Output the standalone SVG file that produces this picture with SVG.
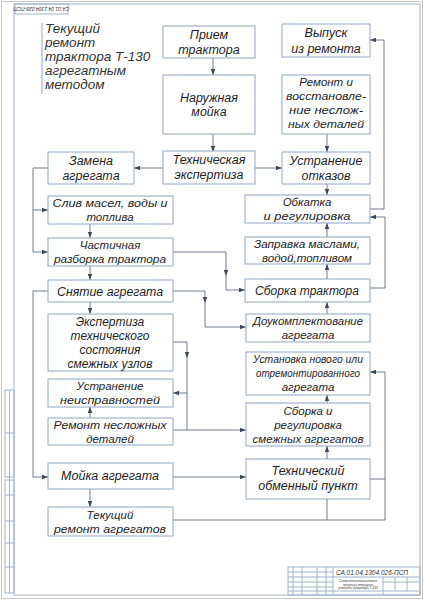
<svg xmlns="http://www.w3.org/2000/svg" width="424" height="600" viewBox="0 0 424 600">
<defs>
<marker id="a" viewBox="0 0 8 6" refX="8" refY="3" markerWidth="6" markerHeight="4.5" orient="auto" markerUnits="userSpaceOnUse"><path d="M0,0 L8,3 L0,6 z" fill="#3d4a5a"/></marker>
</defs>
<style>
.frame{fill:none;stroke:#9fb3cc;stroke-width:1}
.box{fill:#fff;stroke:#8ea6c4;stroke-width:1}
.t{font-family:"Liberation Sans",Arial,sans-serif;font-style:italic;font-size:12.5px;fill:#1e1e1e;text-anchor:middle}
.s{font-size:11.5px}
.m{font-size:12px}
.c{fill:none;stroke:#5d6d82;stroke-width:0.9}
.ca{fill:none;stroke:#5d6d82;stroke-width:0.9;marker-end:url(#a)}
.tiny{font-family:"Liberation Sans",Arial,sans-serif;font-style:italic;fill:#333}
</style>
<rect x="0" y="0" width="424" height="600" fill="#fff"/>
<g id="frame">
<rect x="1.5" y="1.5" width="421" height="597" fill="none" stroke="#c8c8c8" stroke-width="1"/>
<rect class="frame" x="14" y="4" width="406" height="591"/>
<rect class="frame" x="15" y="4" width="53" height="10"/>
<text class="tiny" font-size="5" text-anchor="middle" transform="translate(41.5,9) rotate(180)" dy="1.8">СА.01.04.1304.026-ПСП</text>
<rect class="frame" x="5" y="390" width="9" height="87"/>
<line class="frame" x1="5" y1="433" x2="14" y2="433"/>
<rect class="frame" x="5" y="480" width="9" height="113"/>
<line class="frame" x1="5" y1="495" x2="14" y2="495"/>
<line class="frame" x1="5" y1="521" x2="14" y2="521"/>
<line class="frame" x1="5" y1="543" x2="14" y2="543"/>
<line class="frame" x1="5" y1="567" x2="14" y2="567"/>
<line class="frame" x1="9.5" y1="390" x2="9.5" y2="593"/>
</g>
<g id="titleblock">
<rect class="frame" x="288" y="567" width="132" height="28"/>
<line class="frame" x1="293" y1="567" x2="293" y2="595"/>
<line class="frame" x1="302" y1="567" x2="302" y2="595"/>
<line class="frame" x1="317" y1="567" x2="317" y2="595"/>
<line class="frame" x1="326" y1="567" x2="326" y2="595"/>
<line class="frame" x1="333" y1="567" x2="333" y2="595"/>
<line class="frame" x1="288" y1="572" x2="333" y2="572"/>
<line class="frame" x1="288" y1="577" x2="420" y2="577"/>
<line class="frame" x1="288" y1="582" x2="333" y2="582"/>
<line class="frame" x1="288" y1="587" x2="333" y2="587"/>
<line class="frame" x1="288" y1="591" x2="420" y2="591"/>
<line class="frame" x1="383" y1="577" x2="383" y2="595"/>
<line class="frame" x1="383" y1="582" x2="420" y2="582"/>
<line class="frame" x1="395" y1="577" x2="395" y2="591"/>
<line class="frame" x1="407" y1="577" x2="407" y2="591"/>
<text class="tiny" font-size="6.5" x="372" y="575" text-anchor="middle">СА.01.04.1304.026-ПСП</text>
<text class="tiny" font-size="3.2" x="358" y="582" text-anchor="middle">Схема технологического</text>
<text class="tiny" font-size="3.2" x="358" y="585.5" text-anchor="middle">процесса текущего</text>
<text class="tiny" font-size="3.2" x="358" y="589" text-anchor="middle">ремонта трактора Т-130</text>
</g>
<g id="title">
<line x1="42" y1="23" x2="42" y2="94" stroke="#8ea6c4" stroke-width="1"/>
<text class="tiny" font-size="13.5" fill="#1e1e1e"><tspan x="45" y="33">Текущий</tspan><tspan x="45" y="47">ремонт</tspan><tspan x="45" y="61">трактора  Т-130</tspan><tspan x="45" y="75">агрегатным</tspan><tspan x="45" y="89">методом</tspan></text>
</g>
<g id="connectors">
<path class="ca" d="M213,58 V75"/>
<path class="ca" d="M213,134 V152"/>
<path class="ca" d="M163,168 H134"/>
<path class="ca" d="M255,168 H282"/>
<path class="ca" d="M327,134 V152"/>
<path class="ca" d="M327,184 V195"/>
<path class="ca" d="M370,209 H384 V40 H370"/>
<path class="ca" d="M48,168 H33 V252 H48"/>
<path class="ca" d="M33,210 H48"/>
<path class="ca" d="M90,224 V238"/>
<path class="ca" d="M90,266 V280"/>
<path class="ca" d="M173,252 H226 V276"/>
<path class="ca" d="M226,276 V290 H245"/>
<path class="ca" d="M327,237 V223"/>
<path class="ca" d="M327,279 V264"/>
<path class="ca" d="M370,288 H385 V217 H370"/>
<path class="ca" d="M173,291 H205 V303"/>
<path class="ca" d="M205,303 V327 H246"/>
<path class="ca" d="M327,314 V302"/>
<path class="ca" d="M48,291 H33 V477 H48"/>
<path class="ca" d="M90,302 V314"/>
<path class="ca" d="M173,342 H187 V358"/>
<path class="c" d="M187,358 V430"/>
<path class="ca" d="M187,393 H173"/>
<path class="ca" d="M90,418 V407"/>
<path class="ca" d="M173,430 H246"/>
<path class="ca" d="M327,403 V395"/>
<path class="ca" d="M327,459 V446"/>
<path class="ca" d="M173,477 H246"/>
<path class="ca" d="M90,489 V507"/>
<path class="ca" d="M173,520 H385 V372 H370"/>
<path class="c" d="M327,499 V520"/>
<path class="c" d="M370,479 H385"/>
</g>
<g id="n-priem"><rect class="box" x="163" y="26" width="92" height="32"/><text class="t" x="209" y="39">Прием</text><text class="t" x="209" y="54">трактора</text></g>
<g id="n-moika"><rect class="box" x="163" y="75" width="92" height="59"/><text class="t" x="209" y="102">Наружная</text><text class="t" x="209" y="116">мойка</text></g>
<g id="n-vypusk"><rect class="box" x="282" y="24" width="88" height="33"/><text class="t" x="326" y="37">Выпуск</text><text class="t" x="326" y="53">из ремонта</text></g>
<g id="n-remont-vost"><rect class="box" x="282" y="75" width="88" height="59"/><text class="t s" x="326" y="86">Ремонт и</text><text class="t s" x="326" y="100" textLength="80" lengthAdjust="spacingAndGlyphs">восстановле-</text><text class="t s" x="326" y="114" textLength="74" lengthAdjust="spacingAndGlyphs">ние неслож-</text><text class="t s" x="326" y="128" textLength="76" lengthAdjust="spacingAndGlyphs">ных деталей</text></g>
<g id="n-zamena"><rect class="box" x="48" y="152" width="86" height="32"/><text class="t" x="91" y="165">Замена</text><text class="t" x="91" y="180">агрегата</text></g>
<g id="n-tech-exp"><rect class="box" x="163" y="151" width="92" height="33"/><text class="t" x="209" y="164">Техническая</text><text class="t" x="209" y="179">экспертиза</text></g>
<g id="n-ustr-otk"><rect class="box" x="282" y="152" width="88" height="32"/><text class="t" x="326" y="165">Устранение</text><text class="t" x="326" y="180">отказов</text></g>
<g id="n-sliv"><rect class="box" x="48" y="196" width="125" height="28"/><text class="t s" x="110" y="207" textLength="115" lengthAdjust="spacingAndGlyphs">Слив масел, воды и</text><text class="t s" x="110" y="221">топлива</text></g>
<g id="n-obkatka"><rect class="box" x="245" y="195" width="125" height="28"/><text class="t s" x="307" y="206">Обкатка</text><text class="t s" x="307" y="220" textLength="87" lengthAdjust="spacingAndGlyphs">и регулировка</text></g>
<g id="n-chast"><rect class="box" x="48" y="238" width="125" height="28"/><text class="t s" x="110" y="249">Частичная</text><text class="t s" x="110" y="263" textLength="112" lengthAdjust="spacingAndGlyphs">разборка трактора</text></g>
<g id="n-zapravka"><rect class="box" x="245" y="237" width="125" height="27"/><text class="t s" x="307" y="248" textLength="106" lengthAdjust="spacingAndGlyphs">Заправка маслами,</text><text class="t s" x="307" y="262" textLength="90" lengthAdjust="spacingAndGlyphs">водой,топливом</text></g>
<g id="n-snyatie"><rect class="box" x="48" y="280" width="125" height="22"/><text class="t" x="110" y="296" textLength="106" lengthAdjust="spacingAndGlyphs">Снятие агрегата</text></g>
<g id="n-sborka-tr"><rect class="box" x="245" y="279" width="125" height="23"/><text class="t" x="307" y="295" textLength="104" lengthAdjust="spacingAndGlyphs">Сборка трактора</text></g>
<g id="n-exp-uzl"><rect class="box" x="48" y="314" width="125" height="57"/><text class="t m" x="110" y="326">Экспертиза</text><text class="t m" x="110" y="340">технического</text><text class="t m" x="110" y="354">состояния</text><text class="t m" x="110" y="368">смежных узлов</text></g>
<g id="n-doukompl"><rect class="box" x="246" y="314" width="124" height="28"/><text class="t s" x="308" y="325" textLength="110" lengthAdjust="spacingAndGlyphs">Доукомплектование</text><text class="t s" x="308" y="339">агрегата</text></g>
<g id="n-ustanovka"><rect class="box" x="246" y="352" width="124" height="43"/><text class="t s" x="308" y="363" textLength="110" lengthAdjust="spacingAndGlyphs">Установка нового или</text><text class="t s" x="308" y="377" textLength="104" lengthAdjust="spacingAndGlyphs">отремонтированного</text><text class="t s" x="308" y="391">агрегата</text></g>
<g id="n-ustr-neispr"><rect class="box" x="48" y="379" width="125" height="28"/><text class="t s" x="110" y="390">Устранение</text><text class="t s" x="110" y="404" textLength="100" lengthAdjust="spacingAndGlyphs">неисправностей</text></g>
<g id="n-remont-nesl"><rect class="box" x="48" y="418" width="125" height="27"/><text class="t s" x="110" y="429" textLength="113" lengthAdjust="spacingAndGlyphs">Ремонт несложных</text><text class="t s" x="110" y="443">деталей</text></g>
<g id="n-sborka-sm"><rect class="box" x="246" y="403" width="124" height="43"/><text class="t s" x="308" y="415">Сборка и</text><text class="t s" x="308" y="429">регулировка</text><text class="t s" x="308" y="443" textLength="111" lengthAdjust="spacingAndGlyphs">смежных агрегатов</text></g>
<g id="n-moika-agr"><rect class="box" x="48" y="463" width="125" height="26"/><text class="t" x="110" y="480">Мойка агрегата</text></g>
<g id="n-tob"><rect class="box" x="246" y="459" width="124" height="40"/><text class="t" x="308" y="475">Технический</text><text class="t" x="308" y="490">обменный пункт</text></g>
<g id="n-tek-rem"><rect class="box" x="48" y="507" width="125" height="29"/><text class="t s" x="110" y="519">Текущий</text><text class="t s" x="110" y="533" textLength="112" lengthAdjust="spacingAndGlyphs">ремонт агрегатов</text></g>
</svg>
